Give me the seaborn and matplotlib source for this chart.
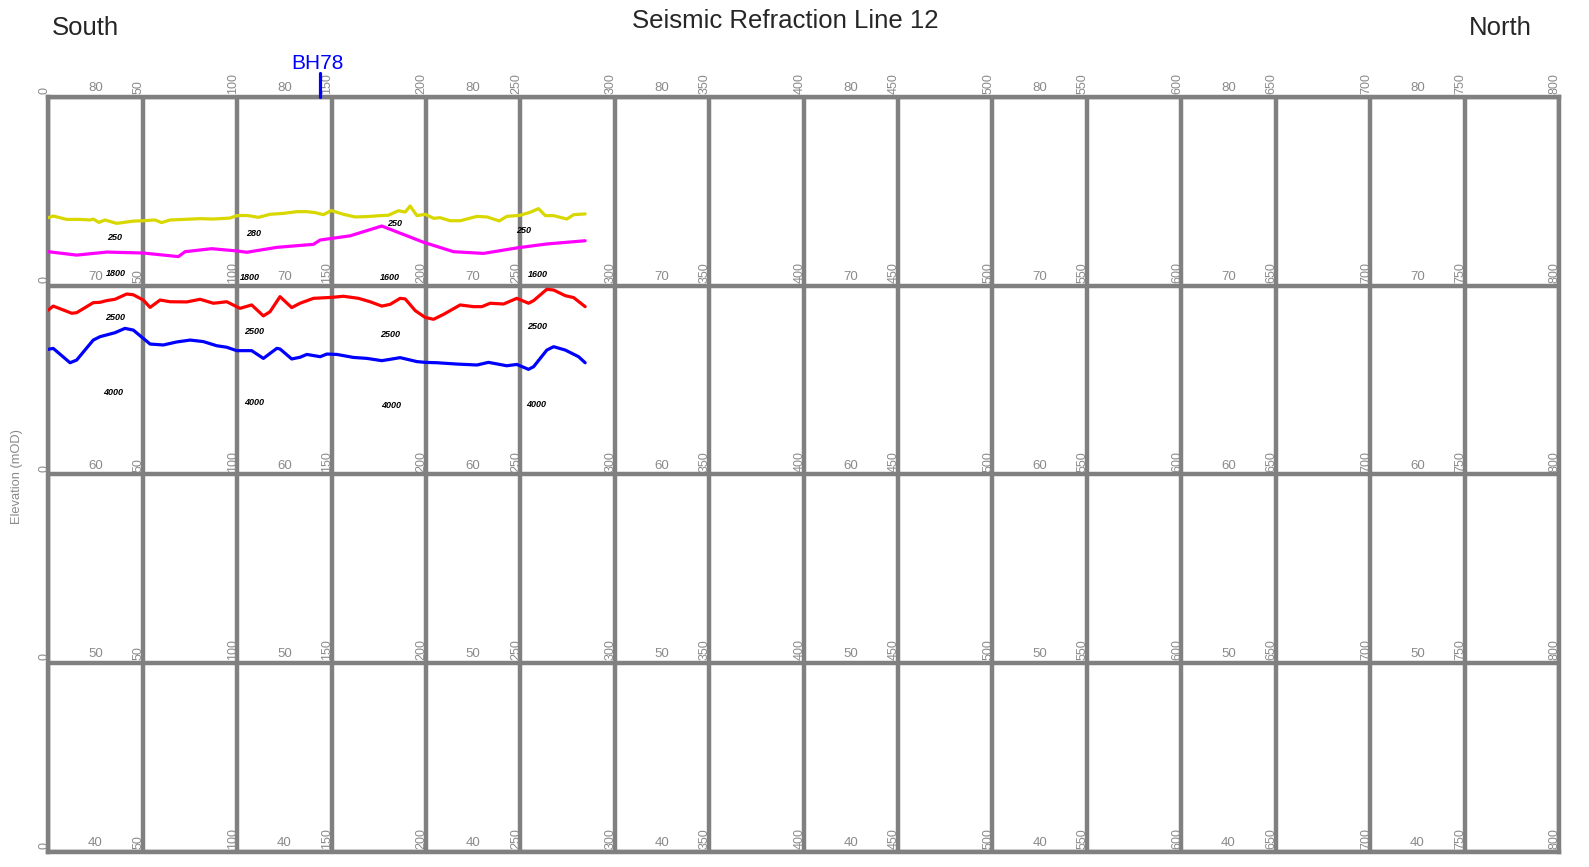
import matplotlib
matplotlib.use("Agg")
import matplotlib.pyplot as plt
import numpy as np
import pandas as pd
import seaborn as sb

# distanta (m) si cota (mOD) pentru fiecare orizont seismic
yellow_x = [0, 2.6, 9.7, 16.8, 22.1, 23.8, 26.8, 30.0, 36.2, 45.0, 50.3, 56.5, 60.0, 64.5, 71.5,
            80.4, 87.4, 96.2, 99.8, 105.1, 111.3, 117.4, 124.5, 131.6, 136.9, 141.3, 145.7, 149.8,
            156.3, 162.5, 168.7, 175.7, 180.1, 185.4, 189.0, 191.6, 195.2, 199.6, 204.0, 207.5,
            212.8, 218.1, 227.0, 232.3, 238.8, 242.8, 249.9, 255.2, 259.6, 263.2, 267.6, 274.6,
            278.2, 284.3]
yellow_y = [73.59, 73.68, 73.50, 73.50, 73.47, 73.52, 73.34, 73.47, 73.29, 73.41, 73.43, 73.47,
            73.33, 73.47, 73.50, 73.54, 73.52, 73.57, 73.70, 73.71, 73.61, 73.77, 73.82, 73.91,
            73.91, 73.86, 73.75, 73.97, 73.77, 73.63, 73.65, 73.70, 73.72, 73.96, 73.89, 74.21,
            73.70, 73.77, 73.56, 73.59, 73.43, 73.43, 73.66, 73.63, 73.42, 73.66, 73.72, 73.88,
            74.07, 73.70, 73.70, 73.52, 73.75, 73.79]

magenta_x = [0, 15.0, 30.9, 50.3, 68.9, 72.4, 86.5, 99.8, 105.1, 121.0, 140.4, 144.0, 159.8,
             176.6, 198.7, 214.6, 230.5, 248.1, 264.0, 284.3]
magenta_y = [71.79, 71.61, 71.77, 71.72, 71.53, 71.79, 71.95, 71.83, 71.76, 72.02, 72.18, 72.41,
             72.63, 73.15, 72.29, 71.79, 71.70, 71.99, 72.20, 72.37]

red_x = [0, 2.6, 12.4, 15.0, 23.8, 27.4, 30.9, 35.3, 41.5, 45.0, 50.3, 53.9, 59.2, 64.5, 73.3,
         80.4, 87.4, 94.5, 101.5, 107.7, 113.9, 117.4, 122.7, 128.9, 133.3, 140.4, 149.8, 156.3,
         164.3, 170.4, 176.6, 181.0, 186.3, 189.0, 194.3, 199.6, 204.0, 209.3, 218.1, 225.2,
         229.6, 234.0, 241.1, 248.1, 254.3, 257.0, 264.0, 267.6, 273.8, 278.2, 284.3]
red_y = [68.70, 68.91, 68.53, 68.56, 69.09, 69.11, 69.20, 69.27, 69.55, 69.51, 69.23, 68.84,
         69.23, 69.14, 69.13, 69.27, 69.06, 69.14, 68.79, 68.97, 68.39, 68.61, 69.41, 68.83,
         69.06, 69.32, 69.37, 69.43, 69.32, 69.14, 68.91, 69.00, 69.32, 69.29, 68.67, 68.31,
         68.21, 68.47, 68.97, 68.88, 68.88, 69.06, 69.02, 69.32, 69.06, 69.20, 69.80, 69.76,
         69.46, 69.36, 68.88]

blue_x = [0, 2.6, 11.5, 15.0, 23.8, 27.4, 35.3, 40.6, 45.0, 53.9, 60.9, 68.0, 75.1, 82.1, 89.2,
          94.5, 99.8, 107.7, 113.9, 121.0, 122.7, 128.9, 133.3, 136.9, 144.0, 147.5, 152.8,
          161.6, 168.7, 176.6, 181.0, 186.3, 195.2, 199.6, 205.8, 216.4, 227.0, 233.1, 242.8,
          248.1, 254.3, 257.0, 264.0, 267.6, 273.8, 280.8, 284.3]
blue_y = [66.62, 66.67, 65.91, 66.05, 67.11, 67.29, 67.50, 67.73, 67.64, 66.90, 66.85, 67.01,
          67.11, 67.03, 66.81, 66.73, 66.55, 66.55, 66.14, 66.67, 66.64, 66.11, 66.20, 66.35,
          66.23, 66.37, 66.35, 66.19, 66.14, 66.02, 66.09, 66.18, 65.97, 65.93, 65.91, 65.84,
          65.79, 65.93, 65.75, 65.82, 65.56, 65.70, 66.58, 66.76, 66.58, 66.23, 65.91]

# viteze (m/s) scrise intre orizonturi
vel_text = ["250", "280", "250", "250", "1800", "1800", "1600", "1600",
            "2500", "2500", "2500", "2500", "4000", "4000", "4000", "4000"]
vel_x = [35.0, 108.6, 183.3, 251.7, 35.9, 106.8, 181.0, 259.1,
         35.3, 109.1, 181.0, 258.7, 34.1, 109.1, 181.4, 258.2]
vel_y = [72.55, 72.73, 73.29, 72.90, 70.61, 70.43, 70.43, 70.59,
         68.31, 67.57, 67.38, 67.82, 64.34, 63.81, 63.67, 63.71]

dist_ticks = list(range(0, 801, 50))
elev_ticks = [80, 70, 60, 50, 40]
elev_label_x = list(range(25, 800, 100))
bh_name = "BH78"
bh_x = 144

grila = "#808080"
text_gri = "#8a8a8a"

sb.set_style("white")
plt.rcParams["font.family"] = ["Liberation Sans", "DejaVu Sans"]

fig = plt.figure(figsize=(15.89, 8.67), dpi=100)
ax = fig.add_axes([0.0304, 0.0173, 0.9507, 0.8712])

linii = pd.concat([
    pd.DataFrame({"x": yellow_x, "y": yellow_y, "strat": "y"}),
    pd.DataFrame({"x": magenta_x, "y": magenta_y, "strat": "m"}),
    pd.DataFrame({"x": red_x, "y": red_y, "strat": "r"}),
    pd.DataFrame({"x": blue_x, "y": blue_y, "strat": "b"}),
])
sb.lineplot(data=linii, x="x", y="y", hue="strat", sort=False, estimator=None,
            palette={"y": "#d8d800", "m": "#ff00ff", "r": "#ff0000", "b": "#0000ff"},
            lw=2.3, legend=False, ax=ax, zorder=3)

ax.set_xlim(0, 800)
ax.set_ylim(40, 80)
ax.set_xticks(dist_ticks)
ax.set_yticks(elev_ticks)
ax.grid(True, color=grila, lw=3.2)
ax.tick_params(length=0, labelbottom=False, labelleft=False)
ax.set_xlabel("")
ax.set_ylabel("")
for s in ax.spines.values():
    s.set_color(grila)
    s.set_linewidth(3.2)

# etichete distanta (rotite) si cota pe fiecare linie orizontala
for e in elev_ticks:
    for d in dist_ticks:
        ax.annotate(str(d), (d, e), xytext=(1.3, 2), textcoords="offset points",
                    rotation=90, ha="right", va="bottom", fontsize=9, color=text_gri,
                    annotation_clip=False)
    for d in elev_label_x:
        ax.annotate(str(e), (d, e), xytext=(0, 2), textcoords="offset points",
                    ha="center", va="bottom", fontsize=9.5, color=text_gri,
                    annotation_clip=False)

for t, x, y in zip(vel_text, vel_x, vel_y):
    ax.text(x, y, t, ha="center", va="center", fontsize=6.5, fontweight="bold",
            style="italic", color="black")

# foraj
ax.plot([bh_x, bh_x], [80, 81.27], color="#0000ff", lw=2.3, ls="-", clip_on=False, zorder=5)
ax.text(bh_x - 1.5, 81.75, bh_name, ha="center", va="center", fontsize=15, color="#0000ff")

fig.text(0.494, 0.9755, "Seismic Refraction Line 12", ha="center", va="center", fontsize=18.5)
fig.text(0.0535, 0.9675, "South", ha="center", va="center", fontsize=18.5)
fig.text(0.944, 0.9675, "North", ha="center", va="center", fontsize=18.5)
fig.text(0.0107, 0.45, "Elevation (mOD)", rotation=90, ha="center", va="center",
         fontsize=9.3, color=text_gri)

fig.savefig("out.png", dpi=100)
